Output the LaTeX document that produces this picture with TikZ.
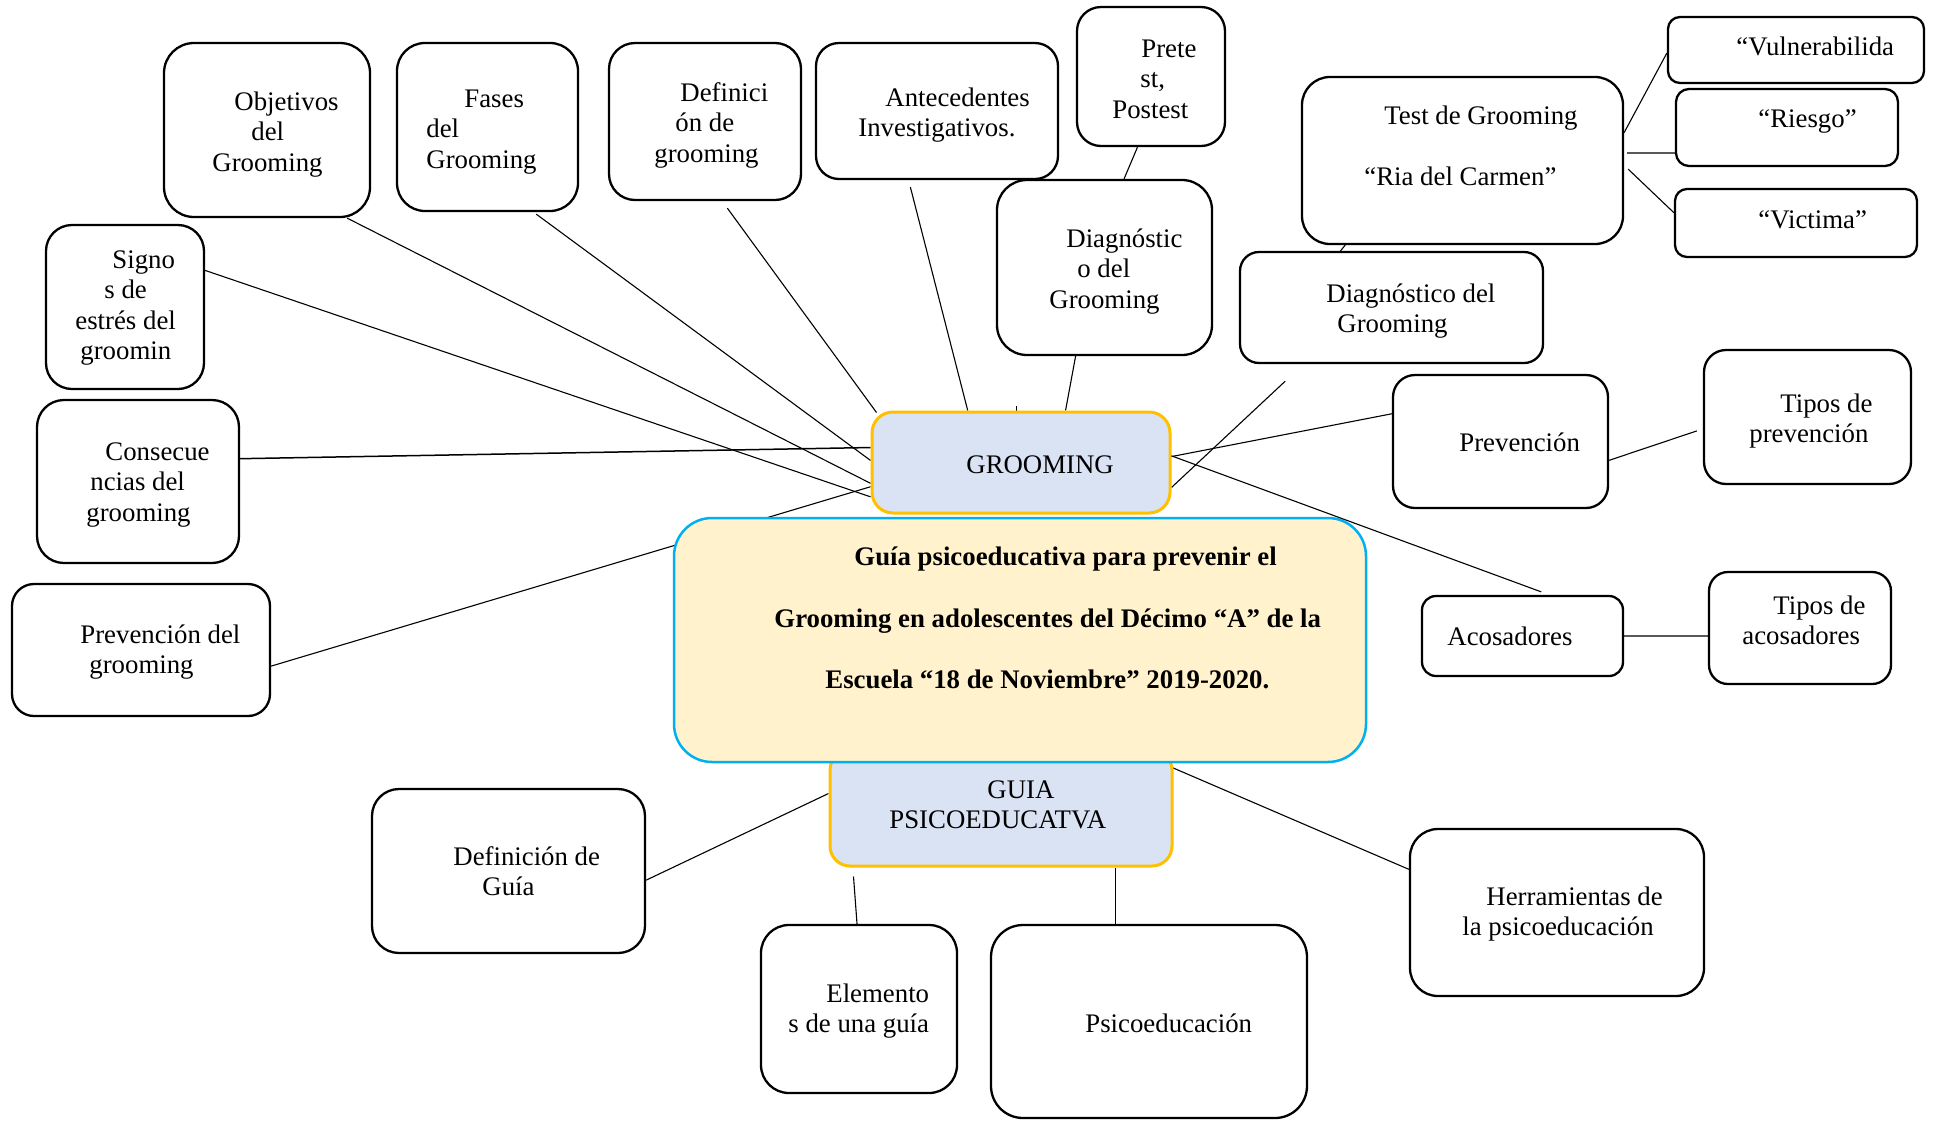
\documentclass[tikz,border=0pt]{standalone}
\usepackage{fontspec}
\setmainfont{Liberation Serif}
\usetikzlibrary{calc,backgrounds}
\definecolor{grmfill}{HTML}{DAE3F3}
\definecolor{goldline}{HTML}{FFC000}
\definecolor{mainfill}{HTML}{FFF2CC}
\definecolor{mainline}{HTML}{00B0F0}
\definecolor{greyline}{HTML}{595959}
\begin{document}
\begin{tikzpicture}[x=0.5pt,y=-0.5pt,
  bx/.style={draw=black,line width=1.15pt,fill=white,inner sep=0pt},
  hub/.style={draw=goldline,line width=1.5pt,fill=grmfill,inner sep=0pt},
  tx/.style={anchor=north west,inner sep=0pt,align=left,font=\fontsize{13.4}{15.2}\selectfont},
  cn/.style={draw=black,line width=0.55pt},
  gl/.style={draw=greyline,line width=1pt}]
\useasboundingbox (0,0) rectangle (1934,1120);

% ---------- boxes ----------
\node[bx,minimum width=103pt,minimum height=87pt,rounded corners=15pt] (obj) at (267,130) {};
\node[bx,minimum width=90.5pt,minimum height=84pt,rounded corners=14pt] (fas) at (487.5,127) {};
\node[bx,minimum width=96pt,minimum height=78.5pt,rounded corners=13pt] (def) at (705,121.5) {};
\node[bx,minimum width=121pt,minimum height=68pt,rounded corners=11.5pt] (ant) at (937,111) {};
\node[bx,minimum width=74pt,minimum height=69.5pt,rounded corners=12pt] (pre) at (1151,76.5) {};
\node[bx,minimum width=107.5pt,minimum height=87.5pt,rounded corners=15pt] (dgm) at (1104.5,267.5) {};
\node[bx,minimum width=160.5pt,minimum height=83.5pt,rounded corners=14pt] (tst) at (1462.5,160.5) {};
\node[bx,minimum width=128pt,minimum height=33pt,rounded corners=6pt] (vul) at (1796,50) {};
\node[bx,minimum width=111pt,minimum height=38.5pt,rounded corners=6.5pt] (rie) at (1787,127.5) {};
\node[bx,minimum width=121pt,minimum height=34pt,rounded corners=6pt] (vic) at (1796,223) {};
\node[bx,minimum width=151.5pt,minimum height=55.5pt,rounded corners=9.5pt] (dgr) at (1391.5,307.5) {};
\node[bx,minimum width=79pt,minimum height=82pt,rounded corners=13pt] (sig) at (125,307) {};
\node[bx,minimum width=101pt,minimum height=81.5pt,rounded corners=13.5pt] (con) at (138,481.5) {};
\node[bx,minimum width=129pt,minimum height=66pt,rounded corners=11pt] (pvg) at (141,650) {};
\node[hub,minimum width=149pt,minimum height=50.5pt,rounded corners=10.5pt] (grm) at (1021,462.5) {};
\node[hub,minimum width=171pt,minimum height=58pt,rounded corners=10pt] (gui) at (1001,808) {};
\node[draw=mainline,line width=1.25pt,fill=mainfill,inner sep=0pt,minimum width=346pt,minimum height=122pt,rounded corners=19pt] (main) at (1020,640) {};
\node[bx,minimum width=107.5pt,minimum height=66.5pt,rounded corners=11pt] (prv) at (1500.5,441.5) {};
\node[bx,minimum width=103.5pt,minimum height=67pt,rounded corners=11pt] (tpp) at (1807.5,417) {};
\node[bx,minimum width=100.5pt,minimum height=40pt,rounded corners=7pt] (aco) at (1522.5,636) {};
\node[bx,minimum width=91pt,minimum height=56pt,rounded corners=9.5pt] (tpa) at (1800,628) {};
\node[bx,minimum width=136.5pt,minimum height=82pt,rounded corners=13.5pt] (dfg) at (508.5,871) {};
\node[bx,minimum width=98pt,minimum height=84pt,rounded corners=14pt] (ele) at (859,1009) {};
\node[bx,minimum width=158pt,minimum height=96.5pt,rounded corners=16pt] (psi) at (1149,1021.5) {};
\node[bx,minimum width=147pt,minimum height=83.5pt,rounded corners=14pt] (her) at (1557,912.5) {};

% ---------- texts ----------
\node[tx] (objT) at (212,88.7) {\hspace*{11pt}\strut Objetivos\\\hspace*{19.5pt}\strut del\\\strut Grooming};
\node[tx] (fasT) at (426,85.7) {\hspace*{19pt}\strut Fases\\\strut del\\\strut Grooming};
\node[tx] (defT) at (654,79.7) {\hspace*{13pt}\strut Definici\\\hspace*{10.5pt}\strut ón de\\\strut grooming};
\node[tx] (antT) at (858,84.7) {\hspace*{13.5pt}\strut Antecedentes\\\strut Investigativos.};
\node[tx] (preT) at (1112,35.7) {\hspace*{14.5pt}\strut Prete\\\hspace*{14pt}\strut st,\\\strut Postest};
\node[tx] (dgmT) at (1049,225.7) {\hspace*{8.5pt}\strut Diagnóstic\\\hspace*{14pt}\strut o del\\\strut Grooming};
\node[tx] (tstT) at (1364,102.7) {\hspace*{10pt}\strut Test de Grooming\\\strut\\\strut “Ria del Carmen”};
\node[tx] (vulT) at (1736,33.7) {\strut “Vulnerabilida};
\node[tx] (rieT) at (1758,105.7) {\strut “Riesgo”};
\node[tx] (vicT) at (1758,206.7) {\strut “Victima”};
\node[tx] (dgrT) at (1326,280.7) {\strut Diagnóstico del\\\hspace*{5.5pt}\strut Grooming};
\node[tx] (sigT) at (75,246.7) {\hspace*{18.5pt}\strut Signo\\\hspace*{14.5pt}\strut s de\\\strut estrés del\\\hspace*{2.5pt}\strut groomin};
\node[tx] (conT) at (86,438.7) {\hspace*{9.5pt}\strut Consecue\\\hspace*{2pt}\strut ncias del\\\strut grooming};
\node[tx] (pvgT) at (80,621.7) {\strut Prevención del\\\hspace*{4.5pt}\strut grooming};
\node[tx] (grmT) at (966,451.7) {\strut GROOMING};
\node[tx,font=\bfseries\fontsize{13.4}{30.8}\selectfont] (mainT) at (774,521.9)
  {\hspace*{40pt}\strut Guía psicoeducativa para prevenir el\\\strut Grooming en adolescentes del Décimo “A” de la\\\hspace*{25.5pt}\strut Escuela “18 de Noviembre” 2019-2020.};
\node[tx] (guiT) at (889,776.7) {\hspace*{49pt}\strut GUIA\\\strut PSICOEDUCATVA};
\node[tx] (prvT) at (1459,429.7) {\strut Prevención};
\node[tx] (tppT) at (1749,390.7) {\hspace*{15.5pt}\strut Tipos de\\\strut prevención};
\node[tx] (acoT) at (1447,623.7) {\strut Acosadores};
\node[tx] (tpaT) at (1742,592.7) {\hspace*{15.5pt}\strut Tipos de\\\strut acosadores};
\node[tx] (dfgT) at (453,843.7) {\strut Definición de\\\hspace*{14.5pt}\strut Guía};
\node[tx] (eleT) at (788,980.7) {\hspace*{19pt}\strut Elemento\\\strut s de una guía};
\node[tx] (psiT) at (1085,1010.7) {\strut Psicoeducación};
\node[tx] (herT) at (1462,883.7) {\hspace*{12pt}\strut Herramientas de\\\strut la psicoeducación};

% ---------- helper coordinates ----------
\coordinate (rieS) at ($(tst.north east)!0.453!(tst.south east)+(3,0)$);
\coordinate (psiN) at ($(psi.north west)!0.394!(psi.north east)$);

% ---------- connectors ----------
\begin{scope}[on background layer]
\fill[white] (0,0) rectangle (1934,1120);
\draw[cn] ($(obj.south west)!0.885!(obj.south east)$) -- ($(grm.north west)!0.70!(grm.south west)$);
\draw[cn] ($(fas.south west)!0.766!(fas.south east)+(0,2)$) -- ($(grm.north west)!0.48!(grm.south west)$);
\draw[cn] ($(def.south west)!0.615!(def.south east)+(0,7)$) -- ($(grm.north west)+(6,2)$);
\draw[cn] ($(ant.south west)!0.391!(ant.south east)+(0,7)$) -- ($(grm.north west)!0.323!(grm.north east)$);
\draw[cn] ($(grm.north west)!0.486!(grm.north east)$) -- ++(0,-5);
\draw[cn] ($(dgm.south west)!0.367!(dgm.south east)$) -- ($(grm.north west)!0.648!(grm.north east)$);
\draw[cn] ($(pre.south west)!0.41!(pre.south east)$) -- ($(dgm.north west)!0.59!(dgm.north east)$);
\draw[cn] ($(sig.north east)!0.28!(sig.south east)$) -- ($(grm.north west)!0.83!(grm.south west)$);
\draw[cn,line width=0.75pt] ($(con.north east)!0.362!(con.south east)$) -- ($(grm.north west)!0.356!(grm.south west)$);
\draw[cn] ($(pvg.north east)!0.62!(pvg.south east)$) -- ($(grm.north west)!0.733!(grm.south west)$);
\draw[cn] ($(grm.north east)!0.74!(grm.south east)$) -- ($(dgr.south west)!0.152!(dgr.south east)+(0,17)$);
\draw[cn] ($(grm.north east)!0.443!(grm.south east)$) -- ($(prv.north west)!0.295!(prv.south west)$);
\draw[cn] ($(tst.south west)!0.137!(tst.south east)$) -- ($(dgr.north west)!0.333!(dgr.north east)$);
\draw[cn] ($(tst.north east)!0.335!(tst.south east)$) -- ($(vul.north west)!0.545!(vul.south west)$);
\draw[gl] (rieS) -- (rieS -| rie.west);
\draw[cn] ($(tst.north east)!0.551!(tst.south east)+(4,0)$) -- ($(vic.north west)!0.353!(vic.south west)$);
\draw[cn] ($(prv.north east)!0.639!(prv.south east)$) -- ($(tpp.north west)!0.602!(tpp.south west)+(-6,0)$);
\draw[gl] (aco.east) -- (aco.east -| tpa.west);
\draw[cn] ($(gui.south west)+(0,-74)$) -- ($(dfg.north east)!0.555!(dfg.south east)$);
\draw[cn] ($(gui.south west)+(25,9)$) -- ($(ele.north west)!0.49!(ele.north east)$);
\draw[cn] (psiN |- gui.south) -- (psiN);
\draw[cn] ($(gui.north east)+(-1.4,19)$) -- ($(her.north west)!0.245!(her.south west)$);
\end{scope}
\draw[cn] ($(grm.north east)!0.436!(grm.south east)$) -- ($(aco.north west)!0.592!(aco.north east)+(0,-3)$);
\end{tikzpicture}
\end{document}
